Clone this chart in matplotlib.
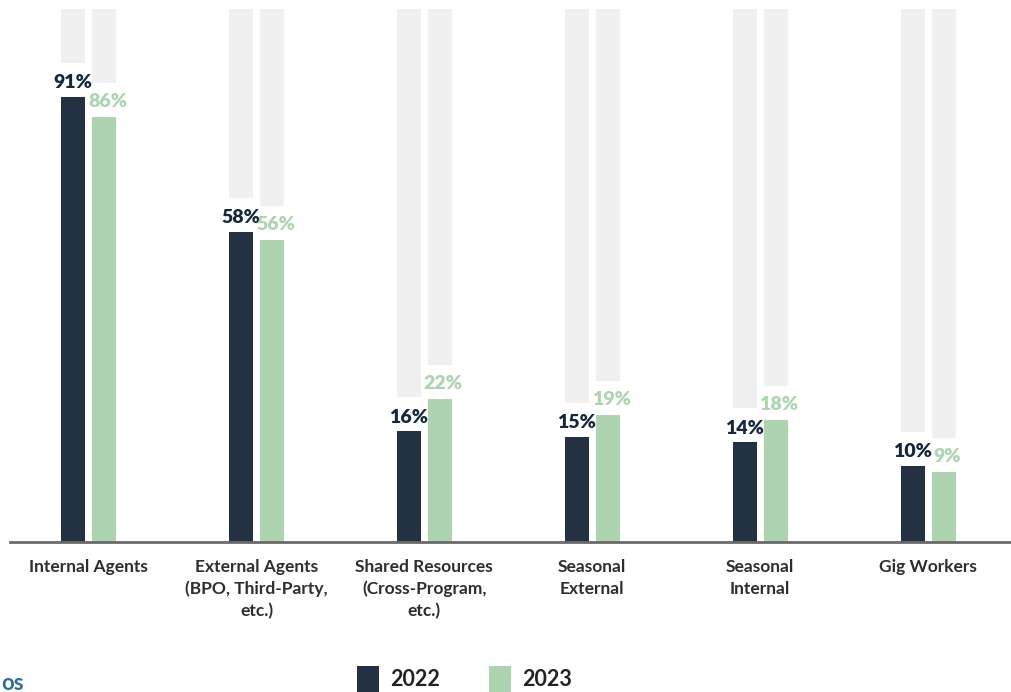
import matplotlib
matplotlib.use("Agg")
import matplotlib.pyplot as plt
import matplotlib.transforms as mtransforms
from matplotlib.patches import Rectangle
import numpy as np

plt.rcParams['font.family'] = ['Lato', 'DejaVu Sans']

# --- data ---------------------------------------------------------------
categories = [
    "Internal Agents",
    "External Agents\n(BPO, Third-Party,\netc.)",
    "Shared Resources\n(Cross-Program,\netc.)",
    "Seasonal\nExternal",
    "Seasonal\nInternal",
    "Gig Workers",
]
values_2022 = [91, 58, 16, 15, 14, 10]
values_2023 = [86, 56, 22, 19, 18, 9]
series_labels = ["2022", "2023"]

# --- style --------------------------------------------------------------
NAVY = "#243142"
NAVY_TXT = "#15283b"
GREEN = "#aed3b1"
TRACK = "#f0f0f0"
AXIS = "#6b6b6b"
CAT_TXT = "#2e2e2e"

W, H, DPI = 1012, 692, 100
fig = plt.figure(figsize=(W / DPI, H / DPI), dpi=DPI)
ax = fig.add_axes([10 / W, (H - 542) / H, 1 - 10 / W, (542 - 9) / H])

# compressed value axis
p = 0.8
ax.set_yscale('function', functions=(lambda v: np.sign(v) * np.abs(v) ** p,
                                     lambda t: np.sign(t) * np.abs(t) ** (1 / p)))
ax.set_ylim(0, 114)
ax.set_xlim(-0.468, 5.50)

x = np.arange(len(categories))
bw = 0.143
off = 0.0925

# gray tracks sit above each bar, leaving room for the value label
shift = mtransforms.offset_copy(ax.transData, fig=fig, x=0, y=34, units='dots')
ymax = ax.get_ylim()[1]
for vals, dx in ((values_2022, -off), (values_2023, off)):
    ax.bar(x + dx, [ymax - v + 20 for v in vals], bottom=vals, width=bw,
           color=TRACK, transform=shift, zorder=1, linewidth=0)

ax.bar(x - off, values_2022, width=bw, color=NAVY, zorder=2, linewidth=0)
ax.bar(x + off, values_2023, width=bw, color=GREEN, zorder=2, linewidth=0)

for xi, v in zip(x, values_2022):
    ax.annotate(f"{v}%", (xi - off, v), xytext=(0, 4), textcoords='offset points',
                ha='center', va='bottom', fontsize=14, fontweight='heavy',
                color=NAVY_TXT, zorder=3)
for xi, v in zip(x, values_2023):
    ax.annotate(f"{v}%", (xi + off + 0.02, v), xytext=(0, 5), textcoords='offset points',
                ha='center', va='bottom', fontsize=14, fontweight='heavy',
                color=GREEN, zorder=3)

for s in ("top", "right", "left"):
    ax.spines[s].set_visible(False)
ax.spines["bottom"].set_color(AXIS)
ax.spines["bottom"].set_linewidth(2)
ax.set_yticks([])
ax.set_xticks(x)
ax.set_xticklabels(categories, fontsize=12.5, fontweight='bold', color=CAT_TXT,
                   linespacing=1.45)
ax.tick_params(axis='x', length=0, pad=12)

# legend
for (lx, tx, lab, col) in ((357, 390, series_labels[0], NAVY),
                           (489, 522, series_labels[1], GREEN)):
    fig.add_artist(Rectangle((lx / W, (H - 692) / H), 22 / W, 26 / H,
                             transform=fig.transFigure, color=col, linewidth=0))
    fig.text(tx / W, (H - 680) / H, lab, fontsize=15.5, fontweight='bold',
             color="#222222", ha='left', va='center')

# footer fragment
fig.text(1 / W, 2 / H, "os", fontsize=16, fontweight='bold', color="#2d6e99",
         ha='left', va='baseline')

fig.savefig("out.png", dpi=DPI)
